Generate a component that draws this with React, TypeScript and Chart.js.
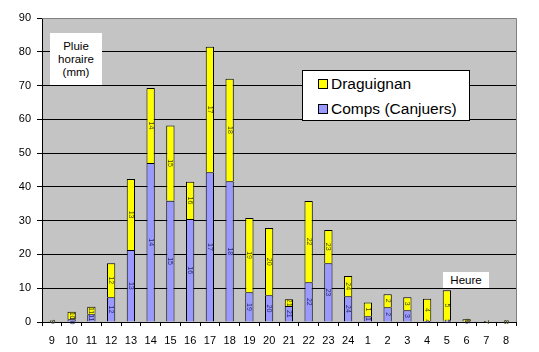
import React, { useEffect, useRef } from "react";
import { Chart, registerables } from "chart.js";

Chart.register(...registerables);

const hours = ["9", "10", "11", "12", "13", "14", "15", "16", "17", "18", "19", "20", "21", "22", "23", "24", "1", "2", "3", "4", "5", "6", "7", "8"];
const comps = [0, 0.8, 2.3, 7.3, 21.3, 47.1, 35.9, 30.5, 44.3, 41.7, 8.8, 7.9, 4.7, 11.8, 17.4, 7.6, 1.7, 4.4, 3.5, 0.3, 0.4, 0, 0, 0];
const draguignan = [0.2, 2.2, 2.2, 10.1, 21.0, 22.2, 22.3, 11.0, 37.2, 30.3, 22.0, 19.9, 2.0, 24.0, 9.8, 6.0, 4.1, 3.8, 3.8, 6.6, 9.0, 0.8, 0, 0];
const seriesNames = ["Draguignan", "Comps (Canjuers)"];
const seriesColors = ["#FFFF00", "#9999FF"];
const labelColors = ["#4a4a00", "#2a2a70"];
const yMax = 90;
const yStep = 10;

const FONT = "'Liberation Sans', Arial, sans-serif";

export default function App() {
  const ref = useRef<HTMLCanvasElement | null>(null);

  useEffect(() => {
    document.body.style.margin = "0";
    const canvas = ref.current!;
    const bgPlugin = {
      id: "plotBg",
      beforeDraw(chart: any) {
        const { ctx, chartArea: a } = chart;
        ctx.save();
        ctx.fillStyle = "#C4C4C4";
        ctx.fillRect(a.left, a.top, a.right - a.left, a.bottom - a.top);
        ctx.restore();
      },
      beforeDatasetsDraw(chart: any) {
        const { ctx, chartArea: a } = chart;
        ctx.save();
        ctx.strokeStyle = "#808080";
        ctx.lineWidth = 1;
        ctx.beginPath();
        ctx.moveTo(a.left, Math.round(a.top) + 0.5);
        ctx.lineTo(Math.round(a.right) + 0.5, Math.round(a.top) + 0.5);
        ctx.lineTo(Math.round(a.right) + 0.5, a.bottom);
        ctx.stroke();
        ctx.restore();
      },
    };
    const labelPlugin = {
      id: "segLabels",
      afterDatasetsDraw(chart: any) {
        const ctx = chart.ctx;
        ctx.save();
        ctx.font = `7px ${FONT}`;
        ctx.textAlign = "center";
        ctx.textBaseline = "middle";
        chart.data.datasets.forEach((ds: any, di: number) => {
          const meta = chart.getDatasetMeta(di);
          meta.data.forEach((el: any, i: number) => {
            const cy = (el.y + el.base) / 2;
            ctx.save();
            ctx.translate(el.x, cy);
            ctx.rotate(Math.PI / 2);
            ctx.fillStyle = ds.labelColor;
            ctx.fillText(hours[i], 0, 0);
            ctx.restore();
          });
        });
        ctx.restore();
      },
    };
    const chart = new Chart(canvas, {
      type: "bar",
      data: {
        labels: hours,
        datasets: [
          {
            label: seriesNames[1],
            data: comps,
            backgroundColor: seriesColors[1],
            borderColor: "#000",
            borderWidth: 1,
            labelColor: labelColors[1],
          } as any,
          {
            label: seriesNames[0],
            data: draguignan,
            backgroundColor: seriesColors[0],
            borderColor: "#000",
            borderWidth: 1,
            labelColor: labelColors[0],
          } as any,
        ],
      },
      options: {
        responsive: false,
        animation: false,
        devicePixelRatio: 1,
        layout: { padding: { top: 18, right: 23, left: 0, bottom: 0 } },
        plugins: { legend: { display: false }, tooltip: { enabled: false } },
        datasets: { bar: { barPercentage: 0.42, categoryPercentage: 1 } },
        scales: {
          x: {
            stacked: true,
            afterFit(s: any) { s.height = 30; },
            grid: { offset: true, drawOnChartArea: false, drawTicks: true, tickLength: 4, tickColor: "#000" },
            border: { color: "#000", width: 1 },
            ticks: { color: "#000", font: { family: FONT, size: 11 }, padding: 8, maxRotation: 0, autoSkip: false },
          },
          y: {
            stacked: true,
            min: 0,
            max: yMax,
            afterFit(s: any) { s.width = 42; },
            grid: {
              color: (c: any) => (c.tick && c.tick.value === yMax ? "#808080" : "#000"),
              lineWidth: 1,
              drawTicks: true,
              tickLength: 5,
              tickColor: "#000",
            },
            border: { color: "#000", width: 1 },
            ticks: { stepSize: yStep, color: "#000", font: { family: FONT, size: 11 }, padding: 6 },
          },
        },
      },
      plugins: [bgPlugin, labelPlugin],
    });
    return () => chart.destroy();
  }, []);

  const box: React.CSSProperties = { position: "absolute", background: "#fff", fontFamily: FONT, color: "#000", textAlign: "center" };

  return (
    <div style={{ position: "relative", width: 539, height: 352 }}>
      <canvas ref={ref} width={539} height={352} style={{ display: "block" }} />
      <div style={{ ...box, left: 50, top: 33, width: 52, height: 52, fontSize: "11.5px", lineHeight: "13px", paddingTop: 7, boxSizing: "border-box" }}>
        Pluie<br />horaire<br />(mm)
      </div>
      <div style={{ ...box, left: 443, top: 272, width: 46, height: 16, fontSize: "11.5px", lineHeight: "16px" }}>Heure</div>
      <div style={{ position: "absolute", left: 302, top: 70, width: 168, height: 51, boxSizing: "border-box", border: "1px solid #000", background: "#fff", fontFamily: FONT }}>
        {seriesNames.map((n, i) => (
          <div key={n} style={{ position: "absolute", left: 15, top: i === 0 ? 4 : 29, height: 18, display: "flex", alignItems: "center", fontSize: "15.5px", whiteSpace: "nowrap", color: "#000" }}>
            <span style={{ display: "inline-block", width: 8, height: 8, background: seriesColors[i], border: "1px solid #000", marginRight: 3 }} />
            {n}
          </div>
        ))}
      </div>
    </div>
  );
}
